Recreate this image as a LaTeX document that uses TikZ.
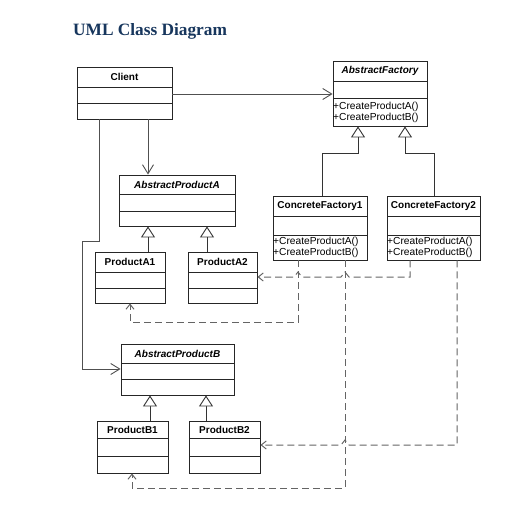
\documentclass[tikz,border=0pt]{standalone}
\usepackage{fontspec}
\setmainfont{Liberation Serif}
\newfontfamily\arialf{Liberation Sans}
\usetikzlibrary{arrows.meta}
\definecolor{titleblue}{RGB}{23,54,93}
\definecolor{linegray}{RGB}{80,80,80}
\definecolor{dashgray}{RGB}{100,100,100}
\newcommand{\umlbox}[8]{%
  \node[clsbox, minimum width={(#4-#2)*1pt}, minimum height={(#5-#3)*1pt}] (#1) at ({(#2+#4)/2},{(#3+#5)/2}) {};
  \draw[clsline] (#2,#6) -- (#4,#6);
  \draw[clsline] (#2,#7) -- (#4,#7);
  \node[clstitle] (#1-t) at ({(#2+#4)/2},{(#3+#6)/2}) {#8};
}
\begin{document}
\begin{tikzpicture}[x=1pt,y=-1pt,
  clsbox/.style={draw=black!85, line width=0.9pt, inner sep=0pt, rectangle},
  clsline/.style={draw=black!85, line width=0.9pt},
  clstitle/.style={font=\arialf\bfseries\fontsize{10}{11}\selectfont, inner sep=0pt},
  methods/.style={font=\arialf\fontsize{10.2}{11}\selectfont, align=left, anchor=west, inner sep=0pt},
  assoc/.style={draw=linegray, line width=0.9pt, -{Straight Barb[length=9pt,width=11pt]}},
  inherit/.style={draw=black!80, line width=0.9pt, -{Triangle[open, length=11pt, width=14pt, fill=white]}},
  dep/.style={draw=dashgray, line width=1pt, dash pattern=on 7pt off 4pt, -{Straight Barb[length=5pt,width=8pt]}}
]
\useasboundingbox (0,0) rectangle (513,510);
\fill[white] (0,0) rectangle (513,510);

\node[anchor=base west, inner sep=0pt, text=titleblue, font=\bfseries\fontsize{17.3}{19}\selectfont] (title) at (73,36) {UML Class Diagram};

% boxes
\umlbox{client}{77}{67}{172}{119}{87}{103}{Client}
\umlbox{af}{333}{61}{427}{126}{81}{98}{\itshape AbstractFactory}
\node[methods] (af-m) at (333,112) {+CreateProductA()\\+CreateProductB()};
\umlbox{cf1}{273}{196}{367}{260}{216}{235}{ConcreteFactory1}
\node[methods] (cf1-m) at (273,247) {+CreateProductA()\\+CreateProductB()};
\umlbox{cf2}{387}{196}{480}{260}{216}{235}{ConcreteFactory2}
\node[methods] (cf2-m) at (387,247) {+CreateProductA()\\+CreateProductB()};
\umlbox{apa}{119}{175}{235}{226}{194}{211}{\itshape AbstractProductA}
\umlbox{pa1}{95}{252}{165}{303}{272}{288}{ProductA1}
\umlbox{pa2}{188}{252}{257}{303}{272}{288}{ProductA2}
\umlbox{apb}{121}{344}{234}{395}{363}{379}{\itshape AbstractProductB}
\umlbox{pb1}{97}{421}{168}{473}{438}{456}{ProductB1}
\umlbox{pb2}{189}{421}{260}{473}{438}{456}{ProductB2}

% associations from Client
\draw[assoc] (client.east |- 0,94) -- (af.west |- 0,94);
\draw[assoc] (client.south -| 148,0) -- (apa.north -| 148,0);
\coordinate (cb1) at (99,241);
\coordinate (cb2) at (82,241);
\coordinate (cb3) at (82,369);
\draw[assoc] (client.south -| 99,0) -- (cb1) -- (cb2) -- (cb3) -- (apb.west |- cb3);

% inheritance
\coordinate (afl) at (358,153);
\coordinate (afr) at (405,153);
\draw[inherit] (cf1.north -| 322,0) -- (322,153) -- (afl) -- (af.south -| afl);
\draw[inherit] (cf2.north -| 434,0) -- (434,153) -- (afr) -- (af.south -| afr);
\draw[inherit] (pa1.north -| 148,0) -- (apa.south -| 148,0);
\draw[inherit] (pa2.north -| 207,0) -- (apa.south -| 207,0);
\draw[inherit] (pb1.north -| 150,0) -- (apb.south -| 150,0);
\draw[inherit] (pb2.north -| 206,0) -- (apb.south -| 206,0);

% dependencies
\draw[dep] (cf1.south -| 298,0) -- (298,322) -- (130,322) -- (pa1.south -| 130,0);
\draw[dep] (cf1.south -| 345,0) -- (345,488) -- (132,488) -- (pb1.south -| 132,0);
\draw[dep] (cf2.south -| 410,0) -- (410,277) -- (349,277) -- (345,272) -- (341,277)
   -- (302,277) -- (298,272) -- (294,277) -- (pa2.east |- 0,277);
\draw[dep] (cf2.south -| 457,0) -- (457,445) -- (349,445) -- (345,440) -- (341,445)
   -- (pb2.east |- 0,445);
\end{tikzpicture}
\end{document}
